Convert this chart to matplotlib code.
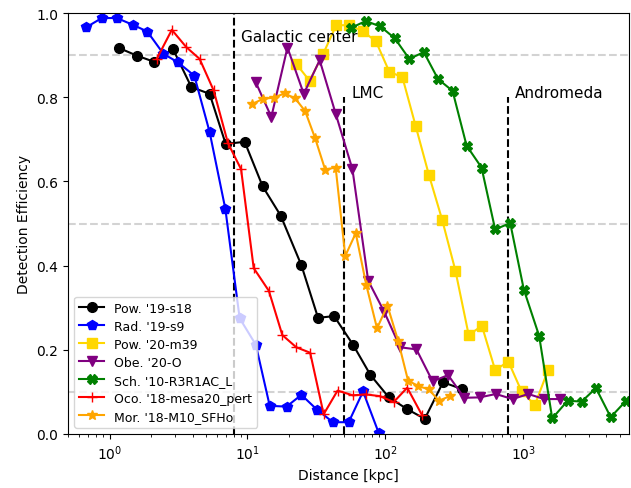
import numpy as np
import matplotlib
matplotlib.use("Agg")
import matplotlib.pyplot as plt

# Distances [kpc] and detection efficiencies
pow19_d = [1.17, 1.57, 2.11, 2.88, 3.92, 5.32, 6.95, 9.55, 12.9, 17.4,
           24.6, 32.5, 42.5, 58.3, 78.0, 106, 144, 193, 262, 357]
pow19_e = [0.917, 0.899, 0.884, 0.915, 0.824, 0.808, 0.689, 0.694, 0.588, 0.519,
           0.401, 0.276, 0.280, 0.212, 0.140, 0.087, 0.059, 0.036, 0.123, 0.107]

rad19_d = [0.677, 0.879, 1.13, 1.475, 1.88, 2.46, 3.13, 4.12, 5.32, 6.92,
           8.78, 11.5, 14.5, 19.2, 24.6, 31.9, 41.7, 54.2, 68.9, 89.6]
rad19_e = [0.966, 0.988, 0.988, 0.972, 0.956, 0.903, 0.883, 0.851, 0.717, 0.534,
           0.275, 0.212, 0.067, 0.065, 0.093, 0.058, 0.028, 0.028, 0.101, 0.002]

pow20_d = [22.6, 28.2, 35.3, 44.0, 54.9, 68.4, 85.3, 106.6, 133, 166,
           207, 258, 322, 402, 501, 625, 780, 972, 1213, 1513]
pow20_e = [0.879, 0.839, 0.902, 0.971, 0.971, 0.957, 0.933, 0.861, 0.847, 0.731,
           0.615, 0.509, 0.388, 0.235, 0.257, 0.152, 0.172, 0.101, 0.069, 0.152]

obe20_d = [11.47, 14.9, 19.5, 25.6, 33.4, 43.6, 57.7, 75.1, 98.2, 128,
           168, 220, 285, 373, 484, 632, 836, 1086, 1419, 1845]
obe20_e = [0.836, 0.753, 0.918, 0.808, 0.888, 0.761, 0.629, 0.364, 0.290, 0.206,
           0.201, 0.125, 0.140, 0.086, 0.087, 0.095, 0.083, 0.095, 0.083, 0.083]

sch10_d = [56.7, 72.1, 92.1, 117, 149, 190, 241, 307, 388, 498,
           625, 804, 1009, 1303, 1621, 2096, 2648, 3364, 4303, 5525]
sch10_e = [0.965, 0.981, 0.968, 0.940, 0.891, 0.907, 0.843, 0.815, 0.685, 0.633,
           0.486, 0.501, 0.343, 0.233, 0.037, 0.079, 0.077, 0.109, 0.040, 0.078]

oco18_d = [2.20, 2.83, 3.60, 4.50, 5.69, 7.22, 8.99, 11.1, 14.3, 17.9,
           22.6, 28.5, 35.7, 45.0, 58.0, 72.3, 91.0, 115, 144, 185]
oco18_e = [0.891, 0.960, 0.919, 0.891, 0.816, 0.691, 0.629, 0.394, 0.340, 0.235,
           0.206, 0.193, 0.047, 0.103, 0.092, 0.094, 0.090, 0.076, 0.110, 0.044]

mor18_d = [10.85, 12.96, 15.5, 18.6, 22.2, 26.2, 31.0, 36.6, 43.6, 51.2,
           61.0, 72.6, 87.0, 103.5, 123.6, 146, 173, 206, 245, 293]
mor18_e = [0.784, 0.796, 0.799, 0.809, 0.797, 0.767, 0.702, 0.628, 0.633, 0.423,
           0.477, 0.355, 0.251, 0.305, 0.222, 0.127, 0.114, 0.106, 0.079, 0.090]

series = [
    ("Pow. '19-s18", pow19_d, pow19_e, "black", "o"),
    ("Rad. '19-s9", rad19_d, rad19_e, "blue", "p"),
    ("Pow. '20-m39", pow20_d, pow20_e, "gold", "s"),
    ("Obe. '20-O", obe20_d, obe20_e, "purple", "v"),
    ("Sch. '10-R3R1AC_L", sch10_d, sch10_e, "green", "X"),
    ("Oco. '18-mesa20_pert", oco18_d, oco18_e, "red", "+"),
    ("Mor. '18-M10_SFHo", mor18_d, mor18_e, "orange", "*"),
]

# reference distances
gc_dist = 8.0
lmc_dist = 50.0
m31_dist = 778.0

fig = plt.figure(figsize=(6.31, 4.89), dpi=100)
ax = fig.add_axes([68 / 631, 54 / 489, 561 / 631, 421 / 489])

for level in [0.1, 0.5, 0.9]:
    ax.axhline(level, color="lightgray", ls="--", lw=1.5, zorder=1)

ax.vlines(gc_dist, 0, 1.0, colors="black", linestyles="--", lw=1.5, zorder=1)
ax.vlines(lmc_dist, 0, 0.8, colors="black", linestyles="--", lw=1.5, zorder=1)
ax.vlines(m31_dist, 0, 0.8, colors="black", linestyles="--", lw=1.5, zorder=1)

ax.text(9.0, 0.945, "Galactic center", fontsize=11, va="center")
ax.text(57, 0.81, "LMC", fontsize=11, va="center")
ax.text(870, 0.81, "Andromeda", fontsize=11, va="center")

for label, d, e, c, m in series:
    ax.plot(d, e, color=c, marker=m, ms=7, lw=1.5, label=label)

ax.set_xscale("log")
ax.set_xlim(0.5, 5840)
ax.set_ylim(0, 1)
ax.set_xlabel("Distance [kpc]")
ax.set_ylabel("Detection Efficiency")
ax.legend(loc="lower left", fontsize=9, labelspacing=0.4)

fig.savefig("out.png", dpi=100)
